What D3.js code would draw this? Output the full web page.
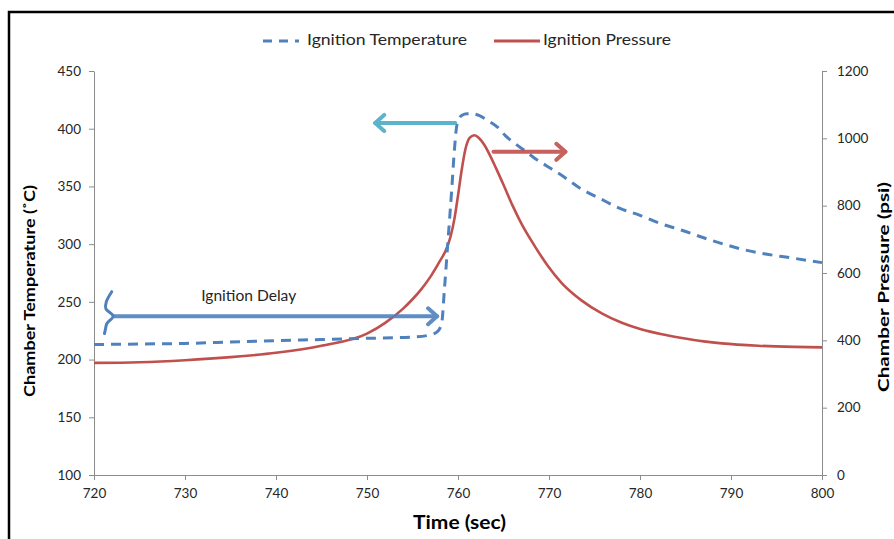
<!DOCTYPE html>
<html>
<head>
<meta charset="utf-8">
<script src="https://cdn.jsdelivr.net/npm/d3@7"></script>
<style>
  html, body { margin: 0; padding: 0; background: #fff; }
  svg { display: block; font-family: Lato, "Open Sans", sans-serif; }
</style>
</head>
<body>
<svg id="chart" width="894" height="539"></svg>
<script>
// ---- data ----
const tempTime = [720, 725, 730, 735, 740, 745, 750, 755, 757, 757.7, 758.2, 758.5, 758.9, 759.3, 759.6, 759.9, 760.4, 761.0, 761.5, 762.3, 763.3, 764.4, 765.2, 766.3, 767.5, 768.5, 769.7, 771.5, 773.5, 775.6, 777.8, 780, 782.2, 784.6, 787, 789, 791, 793.4, 796.7, 800];
const tempValue = [213, 213.5, 214, 215.2, 216.4, 217.4, 218.4, 219.5, 221.5, 224, 231, 260, 303, 346, 381, 404, 411.5, 413, 413, 411.5, 407, 401, 394, 387, 380, 374, 368, 359, 348, 339.5, 331, 325, 318, 312, 305.5, 300.5, 296, 292, 288, 284];

const presTime = [720, 725, 730, 735, 740, 745, 750, 752, 754, 755, 756, 757, 758, 758.7, 759.2, 759.6, 760, 760.4, 760.8, 761.3, 761.8, 762.3, 762.9, 763.5, 764.2, 765, 766, 767, 768.5, 769.9, 771.4, 773.6, 775.8, 778, 780.2, 782.4, 784.6, 787, 789, 793, 797, 800];
const presValue = [333, 335, 341, 350, 363, 384, 420, 452, 495, 522, 553, 590, 635, 670, 710, 760, 830, 905, 966, 1002, 1009, 1001, 980, 950, 910, 862, 800, 745, 677, 620, 570, 518, 480, 452, 432, 418, 407, 397, 391, 384, 380.5, 379];

const xTicks = [720, 730, 740, 750, 760, 770, 780, 790, 800];
const yLeftTicks = [100, 150, 200, 250, 300, 350, 400, 450];
const yRightTicks = [0, 200, 400, 600, 800, 1000, 1200];

const seriesNames = ["Ignition Temperature", "Ignition Pressure"];
const xTitle = "Time (sec)";
const yLeftTitle = "Chamber Temperature (˚C)";
const yRightTitle = "Chamber Pressure (psi)";
const delayLabel = "Ignition Delay";

// annotation anchors in data units
const delayArrow = { x1: 722.2, x2: 757.7, y: 237.5 };        // left (temperature) axis
const tempArrow = { x1: 759.7, x2: 750.9, y: 405 };          // left axis, points left
const presArrow = { x1: 763.9, x2: 771.8, y: 960 };          // right (pressure) axis, points right
const braceX = [721.95, 721.35, 721.3, 722.1, 721.4, 721.25, 721.15];
const braceY = [258.8, 250, 244, 237.7, 231, 226, 222.5];
const delayLabelPos = { x: 737.0, y: 254 };

// ---- drawing ----
const svg = d3.select("#chart");
const W = 894, H = 539;
const plot = { left: 94, right: 822, top: 71, bottom: 475 };

const blue = "#4f81bd", red = "#c0504d", cyan = "#4bacc6", axisCol = "#8c8c8c", textCol = "#262626";

svg.append("rect").attr("width", W).attr("height", H).attr("fill", "#fff");
// outer frame
svg.append("rect").attr("x", 9).attr("y", 12).attr("width", 920).attr("height", 560)
  .attr("fill", "none").attr("stroke", "#000").attr("stroke-width", 2.5);

const x = d3.scaleLinear().domain([720, 800]).range([plot.left, plot.right]);
const yL = d3.scaleLinear().domain([100, 450]).range([plot.bottom, plot.top]);
const yR = d3.scaleLinear().domain([0, 1200]).range([plot.bottom, plot.top]);

function styleAxis(g) {
  g.select(".domain").attr("stroke", axisCol).attr("stroke-width", 1);
  g.selectAll(".tick line").attr("stroke", axisCol);
  g.selectAll(".tick text").attr("fill", textCol).style("font-size", "13.5px").style("font-family", "Lato, sans-serif");
}

svg.append("g").attr("transform", `translate(0,${plot.bottom})`)
  .call(d3.axisBottom(x).tickValues(xTicks).tickFormat(d3.format("d")).tickSize(5).tickPadding(8).tickSizeOuter(0))
  .call(styleAxis);
svg.append("g").attr("transform", `translate(${plot.left},0)`)
  .call(d3.axisLeft(yL).tickValues(yLeftTicks).tickFormat(d3.format("d")).tickSize(5).tickPadding(8).tickSizeOuter(0))
  .call(styleAxis);
svg.append("g").attr("transform", `translate(${plot.right},0)`)
  .call(d3.axisRight(yR).tickValues(yRightTicks).tickFormat(d3.format("d")).tickSize(5).tickPadding(10).tickSizeOuter(0))
  .call(styleAxis);

// series
const tempData = tempTime.map((t, i) => [t, tempValue[i]]);
const presData = presTime.map((t, i) => [t, presValue[i]]);

svg.append("path").datum(presData)
  .attr("fill", "none").attr("stroke", red).attr("stroke-width", 2.6)
  .attr("d", d3.line().x(d => x(d[0])).y(d => yR(d[1])).curve(d3.curveMonotoneX));

svg.append("path").datum(tempData)
  .attr("fill", "none").attr("stroke", blue).attr("stroke-width", 3)
  .attr("stroke-dasharray", "10,7")
  .attr("d", d3.line().x(d => x(d[0])).y(d => yL(d[1])).curve(d3.curveMonotoneX));

// arrows
function arrow(x1, x2, y, color) {
  const g = svg.append("g").attr("stroke", color).attr("fill", "none")
    .attr("stroke-width", 4).attr("stroke-linecap", "round").attr("stroke-linejoin", "round").attr("opacity", 0.9);
  g.append("line").attr("x1", x1).attr("x2", x2).attr("y1", y).attr("y2", y);
  const dir = x2 > x1 ? 1 : -1;
  g.append("path").attr("d", `M${x2 - dir * 9},${y - 8} L${x2},${y} L${x2 - dir * 9},${y + 8}`);
}
arrow(x(delayArrow.x1), x(delayArrow.x2), yL(delayArrow.y), blue);
arrow(x(tempArrow.x1), x(tempArrow.x2), yL(tempArrow.y), cyan);
arrow(x(presArrow.x1), x(presArrow.x2), yR(presArrow.y), red);

// brace
svg.append("path").datum(braceX.map((bx, i) => [bx, braceY[i]]))
  .attr("fill", "none").attr("stroke", blue).attr("stroke-width", 3).attr("stroke-linecap", "round")
  .attr("d", d3.line().x(d => x(d[0])).y(d => yL(d[1])).curve(d3.curveCatmullRom));

svg.append("text").attr("x", x(delayLabelPos.x)).attr("y", yL(delayLabelPos.y))
  .attr("text-anchor", "middle").attr("dominant-baseline", "middle")
  .attr("textLength", 95).attr("lengthAdjust", "spacingAndGlyphs")
  .attr("fill", textCol).style("font-size", "14.5px").text(delayLabel);

// legend
const lg = svg.append("g");
lg.append("line").attr("x1", 262).attr("x2", 299).attr("y1", 41).attr("y2", 41)
  .attr("stroke", blue).attr("stroke-width", 3).attr("stroke-dasharray", "9,7").attr("stroke-dashoffset", -1);
lg.append("text").attr("x", 307).attr("y", 41).attr("dominant-baseline", "middle")
  .attr("textLength", 160).attr("lengthAdjust", "spacingAndGlyphs")
  .attr("fill", textCol).style("font-size", "15.5px").text(seriesNames[0]);
lg.append("line").attr("x1", 494).attr("x2", 540).attr("y1", 41).attr("y2", 41)
  .attr("stroke", red).attr("stroke-width", 3);
lg.append("text").attr("x", 543).attr("y", 41).attr("dominant-baseline", "middle")
  .attr("textLength", 128).attr("lengthAdjust", "spacingAndGlyphs")
  .attr("fill", textCol).style("font-size", "15.5px").text(seriesNames[1]);

// axis titles
svg.append("text").attr("x", 459.5).attr("y", 524)
  .attr("text-anchor", "middle").attr("dominant-baseline", "middle")
  .attr("textLength", 93).attr("lengthAdjust", "spacingAndGlyphs")
  .attr("fill", "#000").style("font-size", "18.5px").style("font-weight", "bold").text(xTitle);
svg.append("text").attr("transform", `translate(31,291) rotate(-90)`)
  .attr("text-anchor", "middle").attr("dominant-baseline", "middle")
  .attr("textLength", 212).attr("lengthAdjust", "spacingAndGlyphs")
  .attr("fill", "#000").style("font-size", "15.5px").style("font-weight", "bold").text(yLeftTitle);
svg.append("text").attr("transform", `translate(885,287) rotate(-90)`)
  .attr("text-anchor", "middle").attr("dominant-baseline", "middle")
  .attr("textLength", 210).attr("lengthAdjust", "spacingAndGlyphs")
  .attr("fill", "#000").style("font-size", "15.5px").style("font-weight", "bold").text(yRightTitle);
</script>
</body>
</html>
